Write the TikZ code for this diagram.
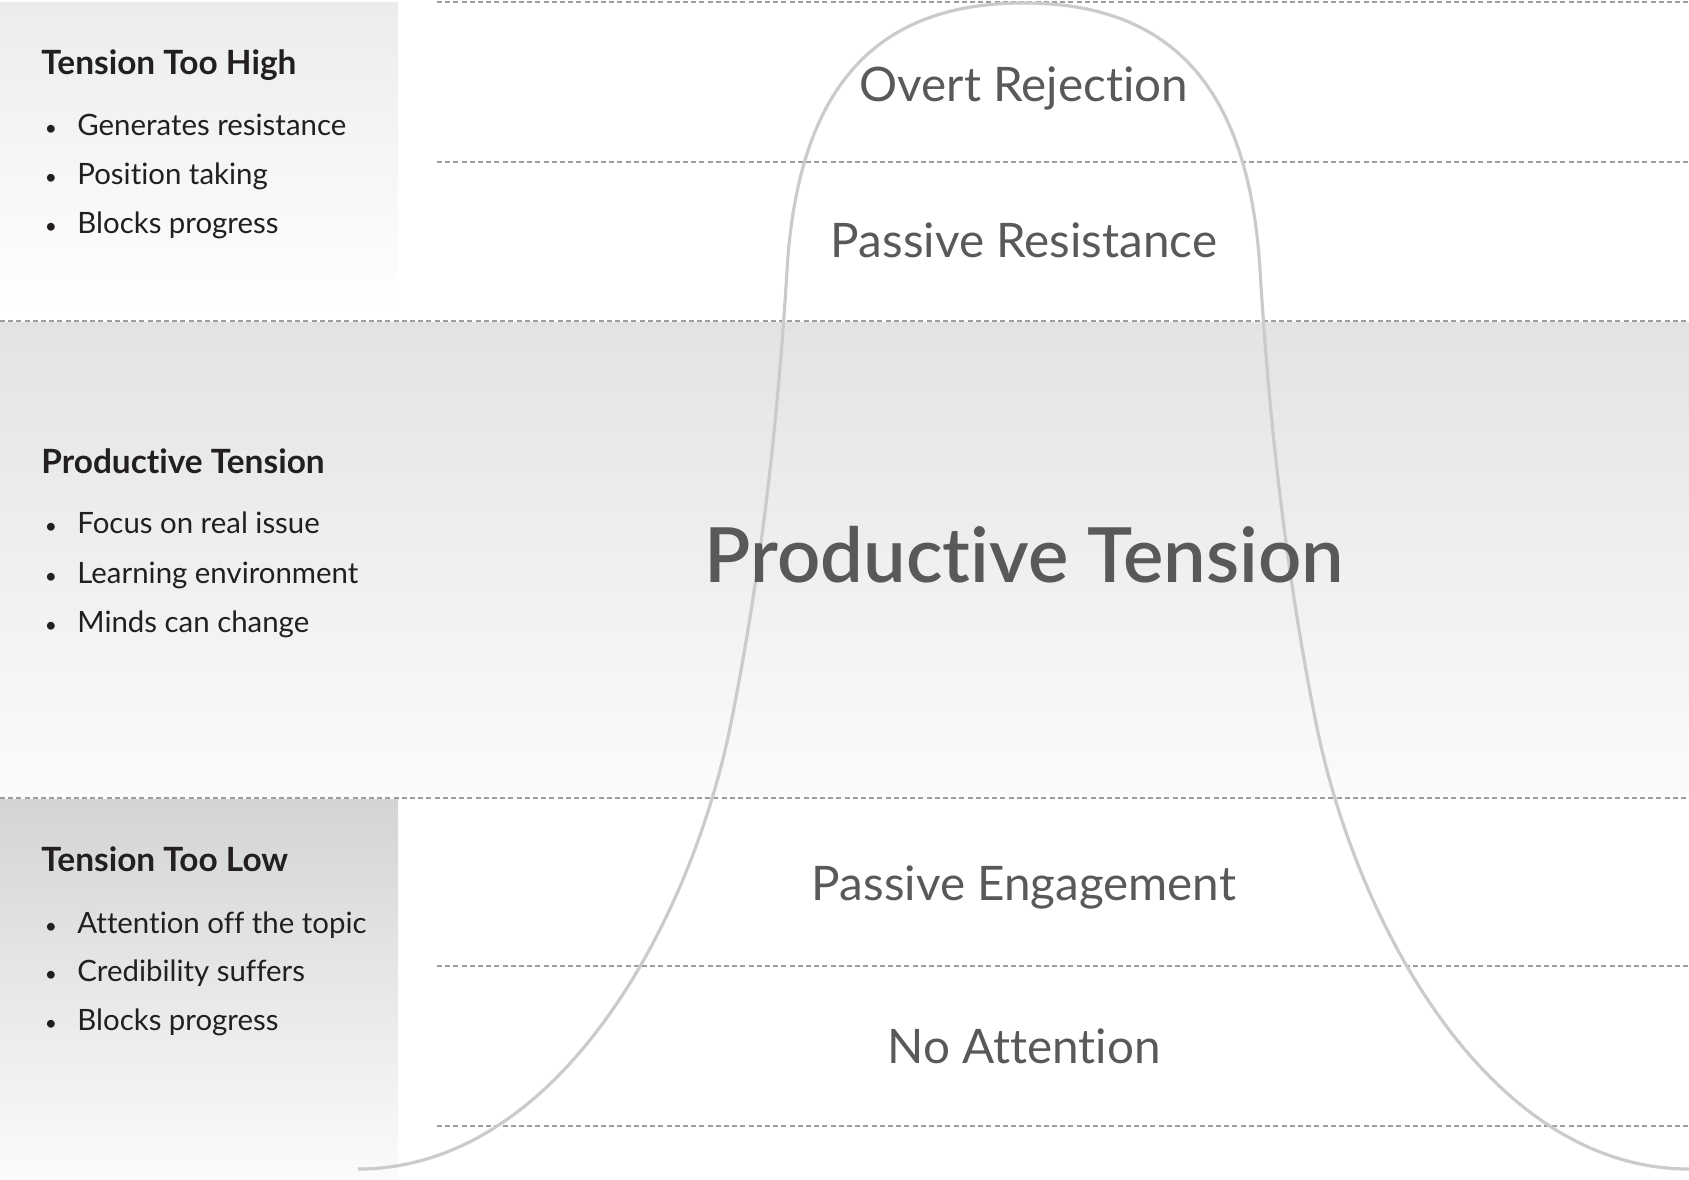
\documentclass[tikz,border=0pt]{standalone}
\usepackage{fontspec}
\setmainfont{Lato}[Ligatures=NoCommon]
\newfontfamily\semibfam{Lato Semibold}[Ligatures=NoCommon]
\definecolor{txt}{HTML}{231F20}
\definecolor{lbl}{HTML}{58595B}
\definecolor{curvec}{HTML}{CBCBCB}
\definecolor{dashc}{HTML}{9D9D9D}
\definecolor{pTop}{HTML}{EBECEC}
\definecolor{mTop}{HTML}{E2E3E4}
\definecolor{bTop}{HTML}{D3D4D6}
\definecolor{fadeEnd}{HTML}{FBFBFB}
\begin{document}
\begin{tikzpicture}[x=0.5pt,y=-0.5pt,
  sepline/.style={draw=dashc, line width=0.8pt, dash pattern=on 2.5pt off 1.6pt},
  head/.style={anchor=base west, inner sep=0, text=txt, font=\fontsize{16.7}{20}\selectfont\bfseries},
  item/.style={anchor=base west, inner sep=0, text=txt, font=\fontsize{14.7}{18}\selectfont},
  bul/.style={anchor=base, inner sep=0, text=txt, font=\fontsize{10.5}{12}\selectfont},
  zone/.style={anchor=base, inner sep=0, text=lbl, font=\fontsize{23.8}{28}\selectfont},
  big/.style={anchor=base, inner sep=0, text=lbl, font=\fontsize{38}{44}\semibfam},
  bell/.style={draw=curvec, line width=1.6pt}]
\useasboundingbox (0,0) rectangle (1689,1179);
% panels
\shade[top color=pTop, bottom color=white] (0,2) rectangle (398,316);
\shade[top color=mTop, bottom color=fadeEnd] (0,322) rectangle (1689,797);
\shade[top color=bTop, bottom color=fadeEnd] (0,799) rectangle (398,1179);
% separators
\coordinate (s1a) at (437,2);    \coordinate (s1b) at (1689,2);
\coordinate (s2a) at (437,162);  \coordinate (s2b) at (1689,162);
\coordinate (s3a) at (0,321);    \coordinate (s3b) at (1689,321);
\coordinate (s4a) at (0,798);    \coordinate (s4b) at (1689,798);
\coordinate (s5a) at (437,966);  \coordinate (s5b) at (1689,966);
\coordinate (s6a) at (437,1126); \coordinate (s6b) at (1689,1126);
\draw[sepline] (s1a) -- (s1b);
\draw[sepline] (s2a) -- (s2b);
\draw[sepline] (s3a) -- (s3b);
\draw[sepline] (s4a) -- (s4b);
\draw[sepline] (s5a) -- (s5b);
\draw[sepline] (s6a) -- (s6b);
% bell curve
\draw[bell] (358,1169) .. controls (558,1169) and (691,923) .. (731,723)
  .. controls (761,573) and (778,420) .. (787,270)
  .. controls (798,90) and (873,3) .. (1023.5,3)
  .. controls (1174,3) and (1249,90) .. (1260,270)
  .. controls (1269,420) and (1286,573) .. (1316,723)
  .. controls (1356,923) and (1489,1169) .. (1689,1169);
% zone labels
\node[zone] (z1) at (1024,101) {Overt Rejection};
\node[zone] (z2) at (1024,257) {Passive Resistance};
\node[big]  (z3) at (1024.5,582) {Productive Tension};
\node[zone] (z4) at (1024,900) {Passive Engagement};
\node[zone] (z5) at (1024,1063) {No Attention};
% left text: high
\node[head] (h1) at (41,74) {Tension Too High};
\node[bul] (b11) at (51,135) {•}; \node[item] (t11) at (77,135) {Generates resistance};
\node[bul] (b12) at (51,184) {•}; \node[item] (t12) at (77,184) {Position taking};
\node[bul] (b13) at (51,233) {•}; \node[item] (t13) at (77,233) {Blocks progress};
% left text: productive
\node[head] (h2) at (41,473) {Productive Tension};
\node[bul] (b21) at (51,533) {•}; \node[item] (t21) at (77,533) {Focus on real issue};
\node[bul] (b22) at (51,583) {•}; \node[item] (t22) at (77,583) {Learning environment};
\node[bul] (b23) at (51,632) {•}; \node[item] (t23) at (77,632) {Minds can change};
% left text: low
\node[head] (h3) at (41,871) {Tension Too Low};
\node[bul] (b31) at (51,933) {•}; \node[item] (t31) at (77,933) {Attention off the topic};
\node[bul] (b32) at (51,981) {•}; \node[item] (t32) at (77,981) {Credibility suffers};
\node[bul] (b33) at (51,1030) {•}; \node[item] (t33) at (77,1030) {Blocks progress};
\end{tikzpicture}
\end{document}
